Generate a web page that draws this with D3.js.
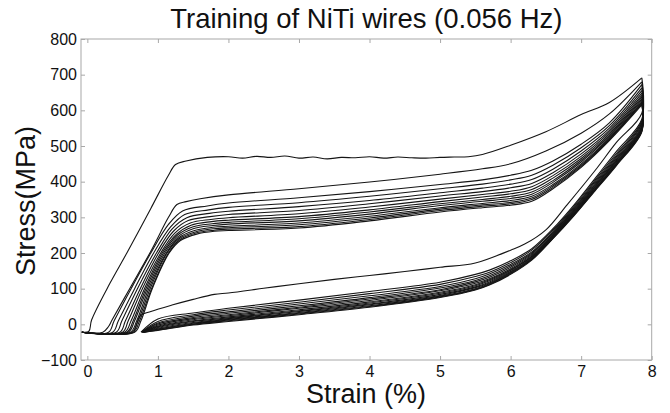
<!DOCTYPE html>
<html lang="en">
<head>
<meta charset="utf-8">
<script src="https://d3js.org/d3.v7.min.js"></script>
<style>
  body { margin: 0; background: #fff; }
  text { font-family: "Liberation Sans", Arial, sans-serif; fill: #111; }
</style>
</head>
<body>
<script>
// tick values
const xTicks = [0, 1, 2, 3, 4, 5, 6, 7, 8];
const yTicks = [-100, 0, 100, 200, 300, 400, 500, 600, 700, 800];

// first cycle, loading and unloading (strain %, stress MPa)
const load1 = [[-0.08,-22],[0.02,-20],[0.06,12],[0.32,115],[0.56,200],[0.9,325],[1.15,418],[1.25,448],[1.4,458],
  [1.7,468],[2.0,470],[2.2,466],[2.4,471],[2.6,468],[2.8,472],[3.0,466],[3.2,469],[3.4,464],[3.6,468],[3.8,467],
  [4.0,470],[4.2,466],[4.4,469],[4.6,467],[4.8,466],[5.0,468],[5.2,469],[5.4,470],[5.6,476],[6.0,502],[6.5,540],
  [7.0,588],[7.4,622],[7.86,691]];
const unload1 = [[7.86,691],[7.86,592],[7.5,510],[7.2,432],[6.8,335],[6.5,265],[6.2,225],[6.0,208],[5.5,172],
  [5.0,160],[4.5,148],[4.0,137],[3.5,126],[3.0,114],[2.5,101],[2.0,88],[1.8,84],[1.5,70],[1.2,54],[0.9,36],
  [0.75,24],[0.71,7],[0.66,-22]];

// second cycle loading
const load2 = [[-0.08,-22],[0.22,-22],[0.3,-6],[0.35,12],[0.6,100],[0.9,205],[1.15,300],[1.27,336],[1.4,344],
  [1.6,352],[2.0,363],[3.0,380],[4.0,399],[5.0,421],[5.6,436],[6.0,450],[6.5,486],[7.0,536],[7.4,590],[7.86,680]];

// later cycles: rising part of each loading branch
const bandRise = [
  [[0.30,-22],[0.38,10],[0.62,100],[0.90,200],[1.15,280],[1.35,318],[1.70,332]],
  [[0.36,-22],[0.44,10],[0.67,100],[0.94,200],[1.18,273],[1.38,308],[1.72,321]],
  [[0.41,-22],[0.49,10],[0.71,100],[0.98,200],[1.20,267],[1.41,299],[1.73,311]],
  [[0.46,-22],[0.54,10],[0.75,100],[1.01,200],[1.22,261],[1.43,291],[1.74,302]],
  [[0.50,-22],[0.58,10],[0.78,100],[1.04,200],[1.24,256],[1.46,284],[1.75,294]],
  [[0.53,-22],[0.62,10],[0.81,100],[1.06,200],[1.26,252],[1.47,278],[1.76,288]],
  [[0.56,-22],[0.65,10],[0.83,100],[1.08,200],[1.27,249],[1.49,273],[1.77,282]],
  [[0.58,-22],[0.67,10],[0.85,100],[1.10,200],[1.28,245],[1.50,268],[1.78,277]],
  [[0.61,-22],[0.70,10],[0.87,100],[1.12,200],[1.29,242],[1.52,263],[1.78,272]],
  [[0.63,-22],[0.72,10],[0.89,100],[1.13,200],[1.30,240],[1.53,259],[1.79,268]],
  [[0.65,-22],[0.74,10],[0.91,100],[1.15,200],[1.31,237],[1.54,256],[1.80,264]],
  [[0.67,-22],[0.76,10],[0.92,100],[1.16,200],[1.32,235],[1.55,253],[1.80,261]]
];
// later cycles: stress along the plateau and hardening part, at these strains
const plateauStrain = [2, 3, 4, 5, 5.6, 6, 6.3, 6.6, 7, 7.4, 7.86];
const bandPlateau = [
  [340,355,372,392,405,418,432,458,505,565,672],
  [328,341,359,380,393,405,418,446,495,557,663],
  [317,330,347,369,382,393,406,435,486,550,655],
  [308,319,338,360,372,383,395,425,478,544,648],
  [299,310,329,351,364,373,386,417,471,539,642],
  [292,302,321,344,357,366,378,410,465,534,637],
  [286,296,315,338,350,359,371,403,460,530,632],
  [281,290,309,333,345,353,365,398,455,527,628],
  [275,284,303,327,339,347,359,392,450,523,624],
  [271,279,298,323,335,342,354,388,446,520,621],
  [267,274,294,319,331,338,350,384,443,518,618],
  [263,270,290,315,327,334,345,380,440,515,615]
];

// unloading branches of cycle 2 and later cycles, stress at these strains
const unloadStrain = [7.86, 7.86, 7.5, 7.2, 6.9, 6.6, 6.3, 6.0, 5.7, 5.5, 5.0, 4.0, 3.0, 2.0, 1.5, 1.0];
const bandUnload = [
  [680,575,485,410,335,268,212,178,152,140,118,92,68,45,32,15],
  [672,570,479,405,331,264,208,173,146,134,112,86,62,40,27,8],
  [663,566,474,401,327,260,203,168,141,128,106,80,57,35,23,4],
  [655,562,470,397,324,257,200,164,136,123,102,75,52,31,19,1],
  [648,558,466,393,321,255,197,160,132,119,97,71,48,27,16,-2],
  [642,555,462,390,318,252,194,156,128,115,94,67,45,24,13,-5],
  [637,552,459,387,316,250,191,153,125,111,90,63,41,21,10,-7],
  [632,550,456,385,313,248,189,151,122,108,87,60,38,18,8,-9],
  [628,547,453,382,311,246,187,148,119,105,84,57,36,16,5,-11],
  [624,545,451,380,310,244,185,146,116,103,81,55,33,14,3,-13],
  [621,543,449,378,308,243,183,144,114,100,79,52,31,12,1,-14],
  [618,541,447,377,306,241,182,142,112,98,77,50,29,10,0,-16],
  [615,540,445,375,305,240,180,140,110,96,75,48,27,8,-2,-17]
];
// strain where each unloading branch reaches the floor
const unloadEnd = [0.76,0.77,0.77,0.77,0.78,0.78,0.78,0.79,0.79,0.79,0.80,0.80,0.80];
const floorStress = -22;

// dimensions
const W = 670, H = 413;
const plot = {left: 81, right: 651.7, top: 39, bottom: 360};

const svg = d3.select("body").append("svg")
  .attr("width", W)
  .attr("height", H);

const x = d3.scaleLinear().domain([-0.09, 8]).range([plot.left, plot.right]);
const y = d3.scaleLinear().domain([-100, 800]).range([plot.bottom, plot.top]);

// build the paths
const paths = [load1, unload1, load2];
bandRise.forEach(function(r, i) {
  const p = [[-0.08, floorStress]].concat(r);
  plateauStrain.forEach(function(s, k) { p.push([s, bandPlateau[i][k]]); });
  paths.push(p);
});
bandUnload.forEach(function(u, i) {
  const p = unloadStrain.map(function(s, k) { return [s, u[k]]; });
  p.push([unloadEnd[i], floorStress]);
  paths.push(p);
});

const line = d3.line()
  .curve(d3.curveCatmullRom.alpha(0.5))
  .x(function(d) { return x(d[0]); })
  .y(function(d) { return y(d[1]); });

svg.append("g")
  .selectAll("path")
  .data(paths)
  .enter()
  .append("path")
  .attr("d", line)
  .attr("fill", "none")
  .attr("stroke", "#151515")
  .attr("stroke-width", 1.1)
  .attr("stroke-linejoin", "round");

// axes box with inward ticks
const axisColor = "#a8a8a8";
function styleAxis(g) {
  g.select(".domain").remove();
  g.selectAll(".tick line").attr("stroke", axisColor);
  g.selectAll(".tick text")
    .style("font-family", '"Liberation Sans", Arial, sans-serif')
    .style("font-size", "16px")
    .attr("fill", "#111");
}

svg.append("g")
  .attr("transform", "translate(0," + plot.bottom + ")")
  .call(d3.axisBottom(x).tickValues(xTicks).tickSizeInner(-4).tickSizeOuter(0).tickPadding(6).tickFormat(d3.format("d")))
  .call(styleAxis);
svg.append("g")
  .attr("transform", "translate(0," + plot.top + ")")
  .call(d3.axisTop(x).tickValues(xTicks).tickSizeInner(-4).tickSizeOuter(0).tickFormat(""))
  .call(styleAxis);
svg.append("g")
  .attr("transform", "translate(" + plot.left + ",0)")
  .call(d3.axisLeft(y).tickValues(yTicks).tickSizeInner(-4).tickSizeOuter(0).tickPadding(4).tickFormat(d3.format("d")))
  .call(styleAxis);
svg.append("g")
  .attr("transform", "translate(" + plot.right + ",0)")
  .call(d3.axisRight(y).tickValues(yTicks).tickSizeInner(-4).tickSizeOuter(0).tickFormat(""))
  .call(styleAxis);

svg.append("rect")
  .attr("x", plot.left)
  .attr("y", plot.top)
  .attr("width", plot.right - plot.left)
  .attr("height", plot.bottom - plot.top)
  .attr("fill", "none")
  .attr("stroke", axisColor)
  .attr("stroke-width", 1);

// title and labels
svg.append("text")
  .attr("x", (plot.left + plot.right) / 2)
  .attr("y", 28)
  .attr("text-anchor", "middle")
  .style("font-size", "27.5px")
  .text("Training of NiTi wires (0.056 Hz)");

svg.append("text")
  .attr("x", 366)
  .attr("y", 403)
  .attr("text-anchor", "middle")
  .style("font-size", "27px")
  .text("Strain (%)");

svg.append("text")
  .attr("transform", "translate(35,201) rotate(-90)")
  .attr("text-anchor", "middle")
  .style("font-size", "27px")
  .text("Stress(MPa)");
</script>
</body>
</html>
